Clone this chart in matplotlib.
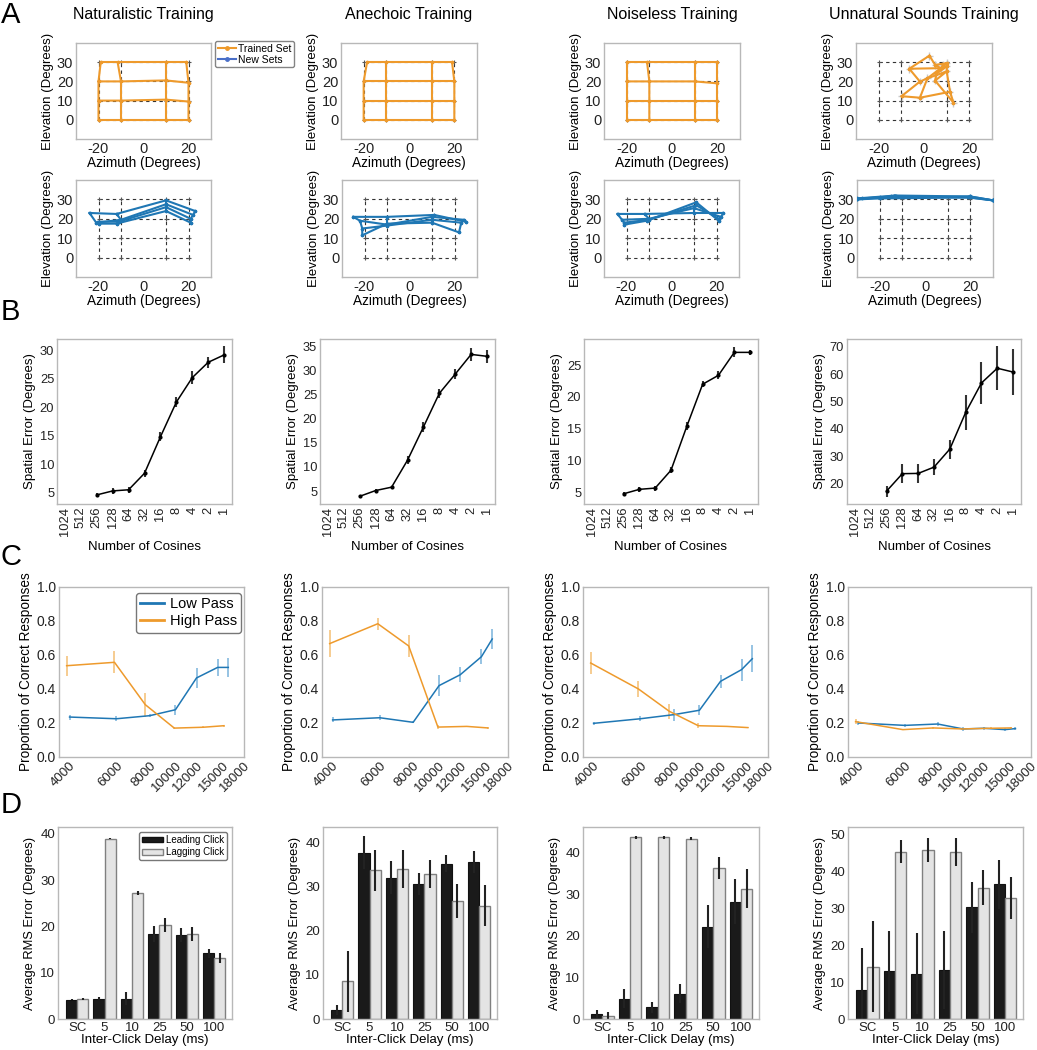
import numpy as np
import matplotlib
matplotlib.use('Agg')
import matplotlib.pyplot as plt
from matplotlib.patches import Patch
from matplotlib.lines import Line2D
from matplotlib.ticker import NullLocator

plt.rcParams['font.family'] = ['Liberation Sans', 'DejaVu Sans']
plt.rcParams['axes.unicode_minus'] = False

W, H = 1037, 1050
ORANGE = '#EE9A2C'
ORANGE_ERR = '#F6C888'
BLUE = '#1F77B4'
BLUE_ERR = '#8EBEE0'
SPINE = '#b8b8b8'

titles = ['Naturalistic Training', 'Anechoic Training', 'Noiseless Training',
          'Unnatural Sounds Training']

# ---- A: localization grids (rows = elevation 0,10,20,30 ; cols = azimuth -20,-10,10,20)
target_az = [-20, -10, 10, 20]
target_el = [0, 10, 20, 30]

trained_az = [
    [[-20, -10, 10, 20], [-20, -10, 10, 20], [-20, -10, 10, 20], [-19, -11.5, 10, 19]],
    [[-20, -10, 10, 20], [-20, -10, 10, 20], [-20, -10, 10, 20], [-18.5, -10, 10, 19]],
    [[-20, -10, 10, 20], [-20, -10, 10, 20], [-20, -10, 10, 20], [-20, -11, 10, 20]],
    [[-9.9, -1.8, 11.5, 13], [-1.8, 1.5, 10, 4.9], [-6.5, 7.4, 10, 5.5], [2.4, 4.9, 10, 8.5]],
]
trained_el = [
    [[0, 0, 0, 0], [10, 10, 10.5, 9.5], [20, 20, 20.5, 19.3], [30, 30, 30, 30]],
    [[0, 0, 0, 0], [10, 10, 10, 10], [20, 20, 20, 20], [30, 30, 30, 30]],
    [[0, 0, 0, 0], [10, 10, 10, 10], [20, 20, 20, 19], [30, 30, 30, 30]],
    [[12.3, 11.5, 14.6, 8.9], [19.9, 21.6, 25.2, 20.4], [26.6, 26.9, 27.8, 24], [33.4, 28.6, 29.5, 28.5]],
]
new_az = [
    [[-24, -12, 10, 23], [-21, -10, 10, 22], [-20, -11, 10, 21], [-20, -12, 10, 21]],
    [[-25, -10, 11, 25], [-22, -10, 10, 24], [-21, -10, 10, 23], [-21, -10, 10, 22]],
    [[-24, -12, 10, 23], [-22, -10, 10, 22], [-21, -10, 11, 21], [-21, -11, 11, 21]],
    [[-30, -20, 20, 30], [-30, -13, 20, 30], [-28, -15, 19, 30], [-30, -20, 20, 30]],
]
new_el = [
    [[23, 22.5, 29.5, 24], [18, 19.5, 27.5, 22], [18.5, 18.5, 26, 20], [17.5, 17.5, 24, 18]],
    [[21, 21, 22, 18.5], [19, 17, 21, 19.5], [15, 16.5, 19.5, 18], [11.5, 17.5, 18, 13]],
    [[22.5, 22.5, 23, 23], [19.5, 20, 25.5, 21], [18, 19.5, 27, 20], [17, 19, 28.5, 19]],
    [[30, 30.5, 31, 29.5], [30.5, 32, 31.5, 29.5], [30.5, 31.5, 31, 29.5], [30, 31, 31.5, 29.5]],
]

# ---- B: spatial error vs number of cosines
cos_labels = ['1024', '512', '256', '128', '64', '32', '16', '8', '4', '2', '1']
b_vals = [
    [4.6, 5.3, 5.5, 8.4, 14.8, 20.9, 25.2, 27.9, 29.2],
    [3.9, 5.1, 5.8, 11.4, 18.3, 25.3, 29.3, 33.4, 33.0],
    [4.8, 5.5, 5.7, 8.5, 15.4, 22.0, 23.4, 27.0, 27.0],
    [17.2, 23.6, 23.7, 26.0, 32.6, 46.0, 56.8, 62.2, 60.8],
]
b_errs = [
    [0.4, 0.5, 0.5, 0.6, 0.8, 0.9, 1.1, 1.0, 1.5],
    [0.2, 0.3, 0.3, 0.8, 1.1, 0.9, 1.1, 1.3, 1.3],
    [0.3, 0.4, 0.4, 0.5, 0.6, 0.5, 0.6, 0.8, 0.4],
    [2.0, 3.5, 3.5, 3.0, 3.5, 6.5, 7.8, 8.0, 8.3],
]
b_ylims = [(3, 32), (2.3, 36.6), (3.2, 29.1), (12.5, 72.9)]
b_yticks = [[5, 10, 15, 20, 25, 30], [5, 10, 15, 20, 25, 30, 35],
            [5, 10, 15, 20, 25], [20, 30, 40, 50, 60, 70]]

# ---- C: filtered sounds
freq_ticks = [4000, 6000, 8000, 10000, 12000, 15000, 18000]
low_x = [4000, 6000, 8000, 10000, 12000, 14400, 15800]
high_x = [3900, 5900, 7700, 9900, 12700, 15200]
low_vals = [
    [0.235, 0.225, 0.243, 0.278, 0.465, 0.527, 0.527],
    [0.218, 0.231, 0.204, 0.420, 0.484, 0.590, 0.694],
    [0.198, 0.225, 0.249, 0.275, 0.445, 0.514, 0.578],
    [0.200, 0.186, 0.194, 0.165, 0.169, 0.161, 0.167],
]
low_errs = [
    [0.015, 0.015, 0.01, 0.03, 0.06, 0.05, 0.055],
    [0.015, 0.015, 0.005, 0.06, 0.045, 0.045, 0.06],
    [0.008, 0.015, 0.035, 0.03, 0.04, 0.065, 0.08],
    [0.01, 0.01, 0.01, 0.01, 0.01, 0.01, 0.01],
]
high_vals = [
    [0.537, 0.557, 0.308, 0.170, 0.175, 0.184],
    [0.667, 0.784, 0.653, 0.176, 0.180, 0.171],
    [0.553, 0.400, 0.269, 0.184, 0.180, 0.173],
    [0.208, 0.161, 0.171, 0.165, 0.169, 0.171],
]
high_errs = [
    [0.06, 0.065, 0.07, 0.005, 0.005, 0.005],
    [0.08, 0.035, 0.065, 0.01, 0.005, 0.005],
    [0.065, 0.045, 0.045, 0.015, 0.005, 0.005],
    [0.015, 0.005, 0.005, 0.005, 0.005, 0.005],
]

# ---- D: precedence effect
delay_labels = ['SC', '5', '10', '25', '50', '100']
lead_vals = [
    [4.2, 4.4, 4.4, 18.3, 18.2, 14.2],
    [2.0, 37.7, 32.0, 30.5, 35.2, 35.6],
    [1.2, 4.9, 2.8, 6.1, 22.2, 28.2],
    [7.8, 12.9, 12.3, 13.3, 30.3, 36.5],
]
lead_errs = [
    [0.1, 0.3, 1.4, 1.7, 1.5, 1.0],
    [1.1, 3.8, 3.7, 2.5, 2.0, 2.5],
    [1.0, 2.3, 1.3, 2.3, 5.2, 5.4],
    [11.6, 11.1, 11.0, 10.7, 6.9, 6.6],
]
lag_vals = [
    [4.4, 39.0, 27.3, 20.3, 18.3, 13.2],
    [8.5, 33.7, 33.9, 32.8, 26.7, 25.7],
    [0.8, 43.6, 43.6, 43.3, 36.2, 31.3],
    [14.2, 45.4, 45.9, 45.4, 35.6, 32.8],
]
lag_errs = [
    [0.2, 0.2, 0.4, 1.5, 1.5, 1.0],
    [7.0, 4.6, 4.3, 3.2, 3.8, 4.6],
    [0.8, 0.3, 0.3, 0.4, 2.7, 4.7],
    [12.3, 3.2, 3.3, 3.8, 4.8, 5.6],
]
d_ylims = [(0, 41.5), (0, 43.5), (0, 46.1), (0, 52.1)]
d_yticks = [[0, 10, 20, 30, 40], [0, 10, 20, 30, 40], [0, 10, 20, 30, 40],
            [0, 10, 20, 30, 40, 50]]

# axes boxes in pixels (left, top, right, bottom)
a_top_x = [(76, 211), (341, 477), (604, 740), (856, 992)]
a_bot_x = [(76, 211), (342, 477), (604, 739), (857, 993)]
b_x = [(57, 232), (320, 495), (584, 758), (847, 1021)]
c_x = [(59, 244), (322, 508), (583, 768), (848, 1031)]
d_x = [(58, 232), (323, 497), (583, 759), (848, 1023)]


def add_ax(fig, l, t, r, b):
    return fig.add_axes([l / W, 1 - b / H, (r - l) / W, (b - t) / H])


def style_ax(ax, size):
    for s in ax.spines.values():
        s.set_color(SPINE)
        s.set_linewidth(1.0)
    ax.tick_params(length=0, labelsize=size, pad=2, colors='#222222')


def grid_panel(ax, az, el, color, err=False):
    dash = (0, (3, 3))
    for e in target_el:
        ax.plot([-20, 20], [e, e], ls=dash, color='#333333', lw=0.8, zorder=1)
    for a in target_az:
        ax.plot([a, a], [0, 30], ls=dash, color='#333333', lw=0.8, zorder=1)
    tx, ty = np.meshgrid(target_az, target_el)
    ax.plot(tx.ravel(), ty.ravel(), '+', color='#555555', ms=3, mew=0.8, zorder=1)
    az = np.array(az, dtype=float)
    el = np.array(el, dtype=float)
    if err:
        ax.errorbar(az.ravel(), el.ravel(), xerr=1.5, yerr=2.0, fmt='none',
                    ecolor='#c8c8c8', elinewidth=1.0, zorder=2)
    for r in range(4):
        ax.plot(az[r], el[r], color=color, lw=1.5, marker='.', ms=3, zorder=3)
    for c in range(4):
        ax.plot(az[:, c], el[:, c], color=color, lw=1.5, marker='.', ms=3, zorder=3)
    ax.set_xlim(-30, 30)
    ax.set_ylim(-10, 40)
    ax.set_xticks([-20, 0, 20])
    ax.set_yticks([0, 10, 20, 30])
    ax.set_xlabel('Azimuth (Degrees)', fontsize=9.8, labelpad=0)
    ax.set_ylabel('Elevation (Degrees)', fontsize=9.5, labelpad=2)
    style_ax(ax, 10.5)


def main():
    fig = plt.figure(figsize=(W / 100, H / 100), dpi=100)

    # panel letters and titles
    for letter, y in zip('ABCD', [15, 312, 557, 805]):
        fig.text(1 / W, 1 - y / H, letter, fontsize=21, va='center', ha='left')
    for (l, r), t in zip(a_top_x, titles):
        fig.text((l + r) / 2 / W, 1 - 15 / H, t, fontsize=11.5, ha='center', va='center')

    # A
    for i in range(4):
        ax = add_ax(fig, a_top_x[i][0], 43, a_top_x[i][1], 139)
        grid_panel(ax, trained_az[i], trained_el[i], ORANGE, err=(i == 3))
        ax = add_ax(fig, a_bot_x[i][0], 180, a_bot_x[i][1], 277)
        grid_panel(ax, new_az[i], new_el[i], BLUE)

    handles = [Line2D([], [], color=ORANGE, lw=1.5, marker='.', ms=5),
               Line2D([], [], color='#4A6FC8', lw=1.5, marker='.', ms=5)]
    leg = fig.legend(handles, ['Trained Set', 'New Sets'], loc='upper left',
                     bbox_to_anchor=(215 / W, 1 - 41 / H), fontsize=7.5,
                     frameon=True, handlelength=1.8, handletextpad=0.2,
                     labelspacing=0.1, borderpad=0.25, borderaxespad=0)
    leg.get_frame().set_edgecolor('#666666')

    # B
    for i in range(4):
        ax = add_ax(fig, b_x[i][0], 339, b_x[i][1], 504)
        ax.errorbar(range(2, 11), b_vals[i], yerr=b_errs[i], color='black', lw=1.1,
                    marker='o', ms=2, ecolor='#333333', elinewidth=1.5, capsize=0)
        ax.set_xlim(-0.5, 10.5)
        ax.set_ylim(*b_ylims[i])
        ax.set_yticks(b_yticks[i])
        ax.set_xticks(range(11))
        ax.set_xticklabels(cos_labels, rotation=90)
        ax.set_xlabel('Number of Cosines', fontsize=9.5, labelpad=4)
        ax.set_ylabel('Spatial Error (Degrees)', fontsize=9.5, labelpad=3)
        style_ax(ax, 9.3)

    # C
    for i in range(4):
        ax = add_ax(fig, c_x[i][0], 587, c_x[i][1], 757)
        ax.set_xscale('log')
        ax.errorbar(low_x, low_vals[i], yerr=low_errs[i], color=BLUE, lw=1.1,
                    ecolor=BLUE_ERR, elinewidth=1.3, capsize=0, label='Low Pass')
        ax.errorbar(high_x, high_vals[i], yerr=high_errs[i], color=ORANGE, lw=1.1,
                    ecolor=ORANGE_ERR, elinewidth=1.3, capsize=0, label='High Pass')
        ax.set_xlim(3650, 18100)
        ax.set_ylim(0, 1.0)
        ax.set_yticks([0, 0.2, 0.4, 0.6, 0.8, 1.0])
        ax.xaxis.set_minor_locator(NullLocator())
        ax.set_xticks(freq_ticks)
        ax.set_xticklabels([str(f) for f in freq_ticks], rotation=45, ha='right',
                           rotation_mode='anchor')
        ax.set_ylabel('Proportion of Correct Responses', fontsize=9.8, labelpad=3)
        style_ax(ax, 10)
        ax.tick_params(axis='x', labelsize=9.5)
        if i == 0:
            lh = [Line2D([], [], color=BLUE, lw=2), Line2D([], [], color=ORANGE, lw=2)]
            leg = ax.legend(lh, ['Low Pass', 'High Pass'], loc='upper right',
                            bbox_to_anchor=(0.984, 0.965), fontsize=10.5,
                            handlelength=1.6, handletextpad=0.4, labelspacing=0.2,
                            borderpad=0.3, borderaxespad=0)
            leg.get_frame().set_edgecolor('#555555')

    # D
    x = np.arange(len(delay_labels))
    bw = 0.41
    for i in range(4):
        ax = add_ax(fig, d_x[i][0], 827, d_x[i][1], 1019)
        ax.bar(x - bw / 2, lead_vals[i], bw, color='#1a1a1a', edgecolor='#111111',
               lw=0.8, label='Leading Click')
        ax.bar(x + bw / 2, lag_vals[i], bw, color='#e4e4e4', edgecolor='#808080',
               lw=1.0, label='Lagging Click')
        ax.errorbar(x - bw / 2, lead_vals[i], yerr=lead_errs[i], fmt='none',
                    ecolor='#222222', elinewidth=1.5, capsize=0)
        ax.errorbar(x + bw / 2, lag_vals[i], yerr=lag_errs[i], fmt='none',
                    ecolor='#222222', elinewidth=1.5, capsize=0)
        ax.set_xlim(-0.7, 5.65)
        ax.set_ylim(*d_ylims[i])
        ax.set_yticks(d_yticks[i])
        ax.set_xticks(x)
        ax.set_xticklabels(delay_labels)
        ax.set_xlabel('Inter-Click Delay (ms)', fontsize=9.5, labelpad=0)
        ax.set_ylabel('Average RMS Error (Degrees)', fontsize=9.3, labelpad=3)
        style_ax(ax, 9.5)
        if i == 0:
            ph = [Patch(facecolor='#1a1a1a', edgecolor='#111111'),
                  Patch(facecolor='#e4e4e4', edgecolor='#808080')]
            leg = ax.legend(ph, ['Leading Click', 'Lagging Click'], loc='upper right',
                            bbox_to_anchor=(0.971, 0.974), fontsize=7,
                            handlelength=2.2, handleheight=0.5, handletextpad=0.3,
                            labelspacing=0.25, borderpad=0.3, borderaxespad=0)
            leg.get_frame().set_edgecolor('#555555')

    fig.savefig('out.png', dpi=100)


if __name__ == '__main__':
    main()
